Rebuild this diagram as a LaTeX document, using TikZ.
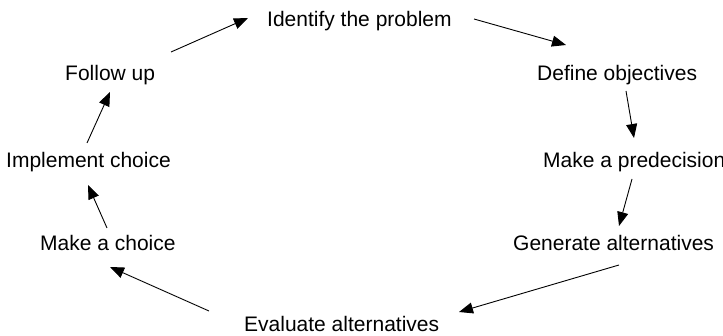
\documentclass[tikz,border=0pt]{standalone}
\usepackage{fontspec}
\setmainfont{Liberation Sans}
\usetikzlibrary{arrows.meta}
\tikzset{
  lbl/.style={anchor=base west, inner sep=0pt, font=\fontsize{21}{25}\selectfont},
  arr/.style={draw=black, line width=0.9pt, -{Triangle[length=14pt,width=11pt]}}
}
\begin{document}
\begin{tikzpicture}[x=1pt,y=-1pt]
\useasboundingbox (0,0) rectangle (723,336);
\node[lbl] (id) at (267,27) {Identify the problem};
\node[lbl] (def) at (537,80.5) {Define objectives};
\node[lbl] (pre) at (543,167.5) {Make a predecision};
\node[lbl] (gen) at (513,251) {Generate alternatives};
\node[lbl] (eva) at (244,331.5) {Evaluate alternatives};
\node[lbl] (mch) at (40,251) {Make a choice};
\node[lbl] (imp) at (6,168) {Implement choice};
\node[lbl] (fu) at (65,80.5) {Follow up};
% connector ends
\coordinate (a1s) at (171,52);  \coordinate (a1e) at (248,18);
\coordinate (a2s) at (474,19);  \coordinate (a2e) at (566,45);
\coordinate (a3s) at (626,91);  \coordinate (a3e) at (634,138);
\coordinate (a4s) at (632,179); \coordinate (a4e) at (619,226);
\coordinate (a5s) at (619,265); \coordinate (a5e) at (459,312);
\coordinate (a6s) at (209,311); \coordinate (a6e) at (110,267);
\coordinate (a7s) at (107,228); \coordinate (a7e) at (88,185);
\coordinate (a8s) at (87,143);  \coordinate (a8e) at (110,92);
\draw[arr] (a1s) -- (a1e);
\draw[arr] (a2s) -- (a2e);
\draw[arr] (a3s) -- (a3e);
\draw[arr] (a4s) -- (a4e);
\draw[arr] (a5s) -- (a5e);
\draw[arr] (a6s) -- (a6e);
\draw[arr] (a7s) -- (a7e);
\draw[arr] (a8s) -- (a8e);
\end{tikzpicture}
\end{document}
